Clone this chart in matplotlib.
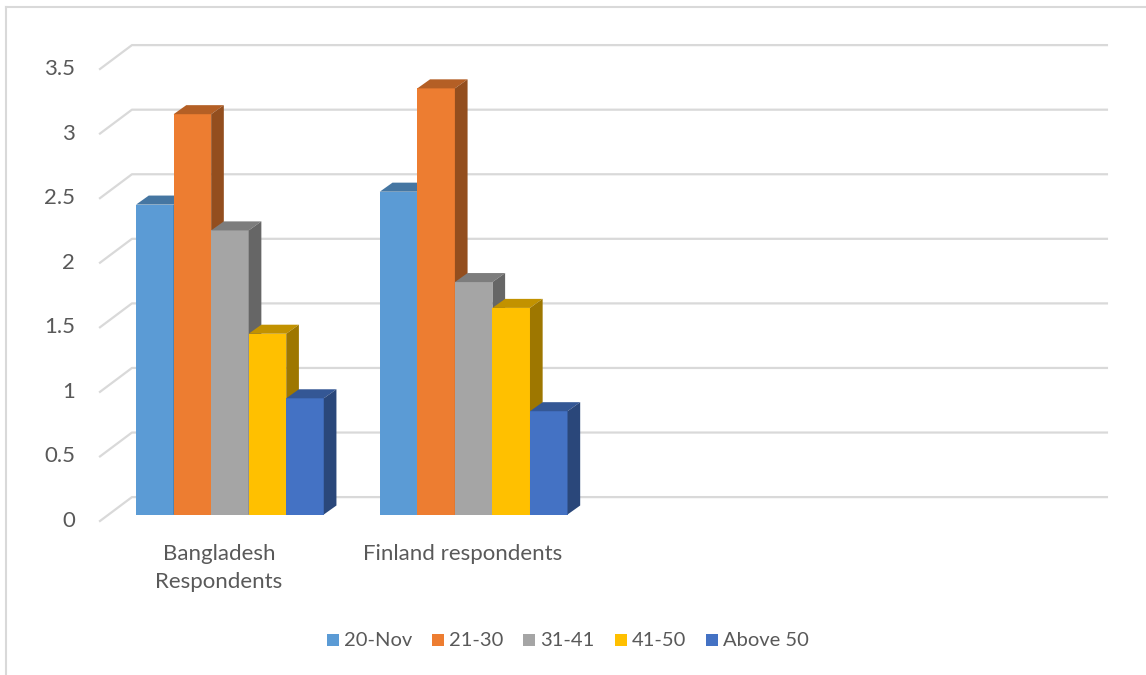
import matplotlib
matplotlib.use("Agg")
import matplotlib.pyplot as plt
from matplotlib.patches import Polygon, Rectangle
from matplotlib.lines import Line2D

plt.rcParams['font.family'] = ['Lato', 'DejaVu Sans']

categories = ["Bangladesh\nRespondents", "Finland respondents"]
series_names = ["20-Nov", "21-30", "31-41", "41-50", "Above 50"]
values = {
    "20-Nov":   [2.4, 2.5],
    "21-30":    [3.1, 3.3],
    "31-41":    [2.2, 1.8],
    "41-50":    [1.4, 1.6],
    "Above 50": [0.9, 0.8],
}
colors = ["#5B9BD5", "#ED7D31", "#A5A5A5", "#FFC000", "#4472C4"]
yticks = [0, 0.5, 1, 1.5, 2, 2.5, 3, 3.5]
n_slots = 4

W, H = 1146, 675
fig = plt.figure(figsize=(W / 100, H / 100), dpi=100)
ax = fig.add_axes([100 / W, (H - 521) / H, 975 / W, (521 - 69) / H])
ax.set_xlim(0, n_slots)
ax.set_ylim(0, 3.5)
ax.axis('off')

text_c = "#595959"
grid_c = "#D9D9D9"
# depth offsets in data units
ox, oy = 0.131, 0.185
for v in yticks:
    ax.add_line(Line2D([0, ox, n_slots + ox], [v, v + oy, v + oy],
                       color=grid_c, lw=1.6, clip_on=False, zorder=0))
    ax.text(-0.103, v, f"{v:g}", ha='right', va='center', fontsize=16,
            color=text_c)


def shade(c, f):
    r, g, b = matplotlib.colors.to_rgb(c)
    return (r * f, g * f, b * f)


bw = 0.154
bdx, bdy = 0.052, 0.07  # bar depth
lift = 0.05             # bar front face sits slightly behind the front plane
for ci in range(len(categories)):
    for si, name in enumerate(series_names):
        v = values[name][ci]
        x0 = ci + 0.148 + si * bw
        y0 = lift
        y1 = v + lift
        c = colors[si]
        z = 2 + si
        ax.add_patch(Rectangle((x0, y0), bw, v, facecolor=c, edgecolor='none', zorder=z))
        ax.add_patch(Polygon([(x0, y1), (x0 + bdx, y1 + bdy), (x0 + bw + bdx, y1 + bdy), (x0 + bw, y1)],
                             closed=True, facecolor=shade(c, 0.76), edgecolor='none', zorder=z))
        ax.add_patch(Polygon([(x0 + bw, y0), (x0 + bw + bdx, y0 + bdy), (x0 + bw + bdx, y1 + bdy), (x0 + bw, y1)],
                             closed=True, facecolor=shade(c, 0.62), edgecolor='none', zorder=z))

for ci, lab in enumerate(categories):
    ax.text(ci + 0.488, -0.175, lab, ha='center', va='top', fontsize=16,
            color=text_c, linespacing=1.5)

# legend (manual layout, Excel-style)
leg_x = [327, 432, 523, 615, 706]
leg_y = 640
sq = 12
for x, name, c in zip(leg_x, series_names, colors):
    fig.add_artist(Rectangle((x / W, (H - leg_y - sq / 2) / H), sq / W, sq / H,
                             facecolor=c, edgecolor='none', transform=fig.transFigure))
    fig.text((x + sq + 5) / W, (H - leg_y) / H, name, ha='left', va='center',
             fontsize=14.5, color=text_c)

# outer border
fig.add_artist(Line2D([6 / W, 6 / W], [0, 1 - 7 / H], color=grid_c, lw=1.5))
fig.add_artist(Line2D([6 / W, 1], [1 - 7 / H, 1 - 7 / H], color=grid_c, lw=1.5))

fig.savefig("out.png", dpi=100, facecolor='white')
